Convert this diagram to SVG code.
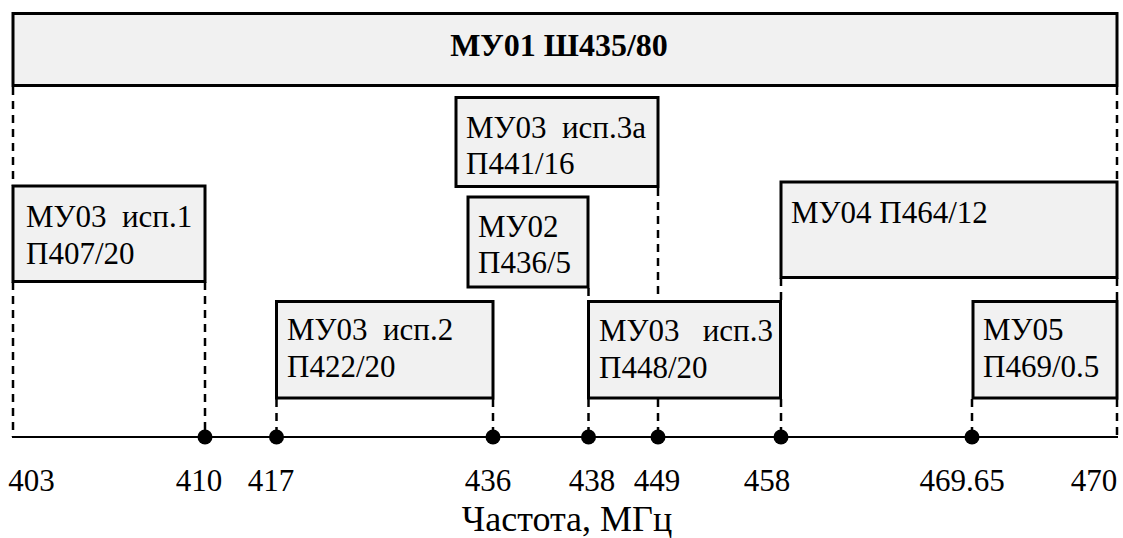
<svg xmlns="http://www.w3.org/2000/svg" width="1123" height="538" viewBox="0 0 1123 538">
<style>
.box{fill:#f1f1f1;stroke:#000;stroke-width:3}
text{font-family:'Liberation Serif','DejaVu Serif',serif;fill:#000}
.t{font-size:31px;white-space:pre}
.title{font-size:32px;font-weight:bold;text-anchor:middle}
.num{font-size:31px;text-anchor:middle}
.lab{font-size:36px;text-anchor:middle}
.d{stroke:#000;stroke-width:2.5;stroke-dasharray:8 6;fill:none}
.axis{stroke:#000;stroke-width:2;fill:none}
.dot{fill:#000}
</style>
<rect width="1123" height="538" fill="#fff"/>
<g id="connectors">
<line class="d" x1="13" y1="87" x2="13" y2="186"/>
<line class="d" x1="13" y1="282" x2="13" y2="437"/>
<line class="d" x1="1117" y1="87" x2="1117" y2="182"/>
<line class="d" x1="1117" y1="278" x2="1117" y2="301"/>
<line class="d" x1="1117" y1="399" x2="1117" y2="437"/>
<line class="d" x1="205" y1="282" x2="205" y2="437"/>
<line class="d" x1="276.5" y1="399" x2="276.5" y2="437"/>
<line class="d" x1="493" y1="399" x2="493" y2="437"/>
<line class="d" x1="588.5" y1="288" x2="588.5" y2="301"/>
<line class="d" x1="588.5" y1="399" x2="588.5" y2="437"/>
<line class="d" x1="658" y1="188" x2="658" y2="301"/>
<line class="d" x1="658" y1="399" x2="658" y2="437"/>
<line class="d" x1="781" y1="278" x2="781" y2="301"/>
<line class="d" x1="781" y1="399" x2="781" y2="437"/>
<line class="d" x1="972" y1="399" x2="972" y2="437"/>
<line class="axis" x1="12" y1="437" x2="1118" y2="437"/>
<circle class="dot" cx="205" cy="437" r="7.5"/>
<circle class="dot" cx="276.5" cy="437" r="7.5"/>
<circle class="dot" cx="493" cy="437" r="7.5"/>
<circle class="dot" cx="588.5" cy="437" r="7.5"/>
<circle class="dot" cx="658" cy="437" r="7.5"/>
<circle class="dot" cx="781" cy="437" r="7.5"/>
<circle class="dot" cx="972" cy="437" r="7.5"/>
</g>
<g id="mu01">
<rect class="box" x="13" y="13.5" width="1104" height="72"/>
<text class="title" x="559" y="55.5">МУ01 Ш435/80</text>
</g>
<g id="mu03-1">
<rect class="box" x="13" y="186" width="192" height="95.5"/>
<text class="t" x="26" y="227">МУ03  исп.1</text>
<text class="t" x="26" y="264">П407/20</text>
</g>
<g id="mu03-3a">
<rect class="box" x="456" y="97.5" width="202" height="89"/>
<text class="t" x="466" y="137.5">МУ03  исп.3а</text>
<text class="t" x="466" y="174">П441/16</text>
</g>
<g id="mu02">
<rect class="box" x="468" y="197" width="120" height="90"/>
<text class="t" x="478" y="236.5">МУ02</text>
<text class="t" x="478" y="273">П436/5</text>
</g>
<g id="mu03-2">
<rect class="box" x="276.5" y="301.5" width="216.5" height="96.5"/>
<text class="t" x="287" y="340">МУ03  исп.2</text>
<text class="t" x="287" y="376.5">П422/20</text>
</g>
<g id="mu03-3">
<rect class="box" x="588.5" y="301.5" width="192" height="96.5"/>
<text class="t" x="599" y="341">МУ03   исп.3</text>
<text class="t" x="599" y="377.5">П448/20</text>
</g>
<g id="mu04">
<rect class="box" x="781" y="182" width="336" height="95.5"/>
<text class="t" x="791" y="222.5">МУ04 П464/12</text>
</g>
<g id="mu05">
<rect class="box" x="973" y="301.5" width="144" height="96.5"/>
<text class="t" x="983" y="340">МУ05</text>
<text class="t" x="983" y="376.5">П469/0.5</text>
</g>
<g id="axis-labels">
<text class="num" x="31.5" y="491">403</text>
<text class="num" x="199" y="491">410</text>
<text class="num" x="271" y="491">417</text>
<text class="num" x="488" y="491">436</text>
<text class="num" x="592" y="491">438</text>
<text class="num" x="657" y="491">449</text>
<text class="num" x="767" y="491">458</text>
<text class="num" x="962" y="491">469.65</text>
<text class="num" x="1094" y="491">470</text>
<text class="lab" x="567" y="531">Частота, МГц</text>
</g>
</svg>
